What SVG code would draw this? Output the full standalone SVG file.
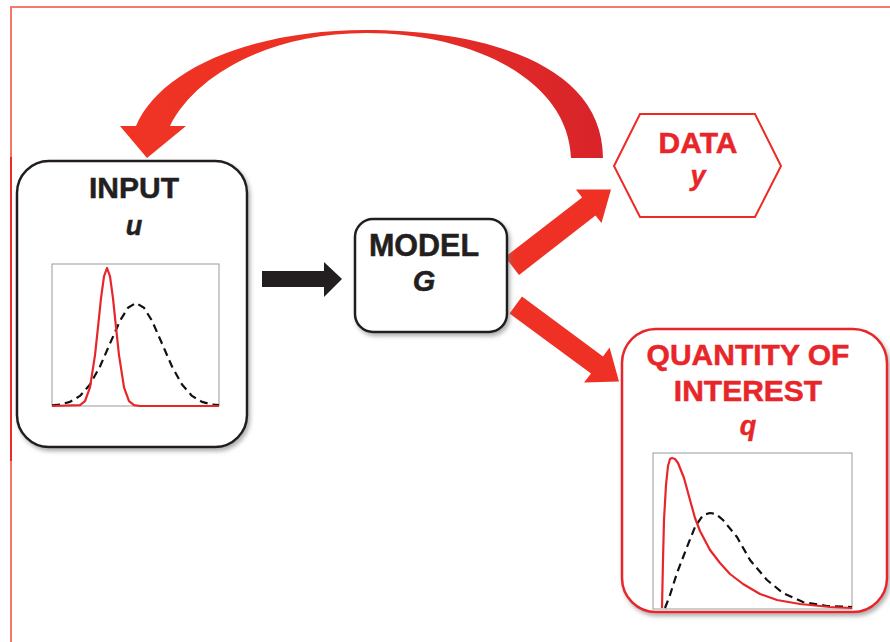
<svg xmlns="http://www.w3.org/2000/svg" width="890" height="642" viewBox="0 0 890 642">
<style>
.lbl{font-family:"Liberation Sans",Arial,sans-serif;font-weight:bold;text-anchor:middle;stroke-width:0.5}
.blk{fill:#231f20;stroke:#231f20}
.red{fill:#e8262a;stroke:#e8262a}
.it{font-style:italic}
.plot{fill:#fff;stroke:#9a9a9a;stroke-width:1}
.rc{fill:none;stroke:#e8262a;stroke-width:2.2;stroke-linejoin:round}
.bc{fill:none;stroke:#111;stroke-width:2.2;stroke-dasharray:8 5;stroke-linejoin:round}
.rarrow{fill:#ee3124}
</style>
<defs>
<filter id="sh" x="-10%" y="-10%" width="130%" height="130%">
<feDropShadow dx="2" dy="3" stdDeviation="2" flood-color="#7a7a7a" flood-opacity="0.6"/>
</filter>
<linearGradient id="arcg" x1="0" y1="0" x2="1" y2="0">
<stop offset="0" stop-color="#f03424"/>
<stop offset="0.5" stop-color="#ea3025"/>
<stop offset="1" stop-color="#d8242a"/>
</linearGradient>
</defs>
<rect width="890" height="642" fill="#fff"/>
<g id="frame">
<line x1="10" y1="7" x2="890" y2="7" stroke="#f47a6c" stroke-width="2"/>
<line x1="11" y1="6" x2="11" y2="642" stroke="#f4766a" stroke-width="2"/>
<line x1="11" y1="157" x2="11" y2="461" stroke="#ec2b25" stroke-width="2"/>
</g>
<g id="connectors">
<path d="M603,158 C603,62 480,30 366,30 C250,30 160,70 136,126 L120,126 L147,158 L186,126 L170,126 C195,75 270,33 366,33 C470,33 568,78 571,158 Z" fill="url(#arcg)"/>
<polygon fill="#231f20" points="262,271 324,271 324,262 342,279 324,297 324,287 262,287"/>
<polygon class="rarrow" points="505,257 582.1,197.5 576,189.5 611,189.5 601.5,223 595.5,215.5 519,275"/>
<polygon class="rarrow" points="522,296.5 603,356.5 609.6,347.5 619,381.5 584,382.5 591,373.5 509.5,313.5"/>
</g>
<g id="input">
<rect x="17" y="161" width="230" height="286" rx="32" fill="#fff" stroke="#231f20" stroke-width="2.5" filter="url(#sh)"/>
<text class="lbl blk" x="134" y="198" font-size="30">INPUT</text>
<text class="lbl blk it" x="134" y="235" font-size="27">u</text>
<rect class="plot" x="52" y="264" width="167" height="142"/>
<polyline class="bc" points="52,405.4 60,404.6 70,401.9 80,395.9 90,384.5 100,366.5 110,343.5 120,320.8 128,307.8 136,303 144,307.8 152,320.8 162,343.5 172,366.5 182,384.5 192,395.9 202,401.9 212,404.6 219,405.2"/>
<polyline class="rc" points="52,406 80,405.1 85,401.2 90,387.3 95,355.1 98,327.2 101,298.4 104,276.3 107,268 110,276.3 113,298.4 116,327.2 119,355.1 124,387.3 129,401.2 134,405.1 140,406 219,406"/>
</g>
<g id="model">
<rect x="355" y="219" width="152" height="113" rx="18" fill="#fff" stroke="#231f20" stroke-width="2.5" filter="url(#sh)"/>
<text class="lbl blk" x="424" y="256" font-size="30.5">MODEL</text>
<text class="lbl blk it" x="424" y="291" font-size="29">G</text>
</g>
<g id="data">
<polygon points="614,166 640,114 755,114 781,166 755,217 640,217" fill="#fff" stroke="#ec2b25" stroke-width="2"/>
<text class="lbl red" x="698" y="153" font-size="30">DATA</text>
<text class="lbl red it" x="698" y="185" font-size="27">y</text>
</g>
<g id="qoi">
<rect x="622" y="329" width="265" height="283" rx="34" fill="#fff" stroke="#e8262a" stroke-width="2.5" filter="url(#sh)"/>
<text class="lbl red" x="748" y="365" font-size="30">QUANTITY OF</text>
<text class="lbl red" x="748" y="401" font-size="30">INTEREST</text>
<text class="lbl red it" x="748" y="435" font-size="27">q</text>
<rect class="plot" x="653" y="453" width="199" height="156"/>
<polyline class="bc" points="665,608 670,595 677,573 687,547 695,527 703,515 710,513 716,514 723,520 737,537 750,560 767,580 783,593 803,602 827,606 852,607"/>
<polyline class="rc" points="662,608 663,560 664,520 666,485 668,466 670,459 672,458 675,459 678,463 684,478 690,500 695,518 700,531 710,550 720,563 730,574 743,584 760,594 777,600 800,604 830,607 852,608"/>
</g>
</svg>
